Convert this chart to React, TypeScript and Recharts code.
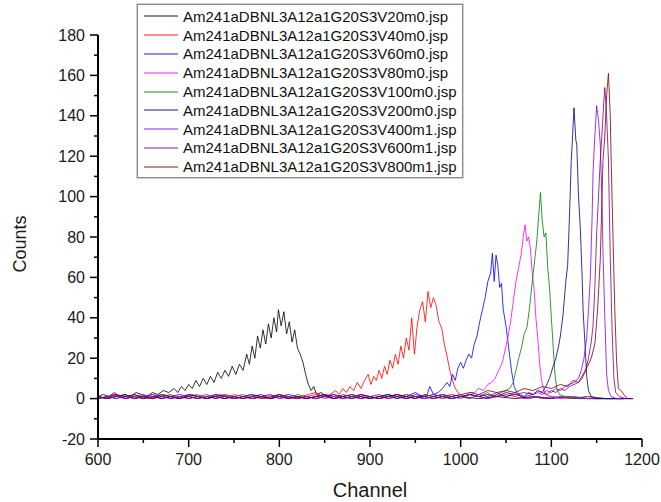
import { LineChart, Line, XAxis, YAxis, Legend } from "recharts";

const FONT = "'Liberation Sans', Arial, sans-serif";

// [channel, counts]
const V20: [number, number][] = [
  [600, 1], [606, 2], [612, 1], [618, 3], [624, 1], [630, 2], [636, 1], [642, 3], [648, 2], [654, 1],
  [660, 3], [666, 2], [672, 4], [678, 3], [684, 5], [688, 3], [692, 6], [696, 4], [700, 7], [704, 5],
  [708, 9], [712, 6], [716, 10], [720, 7], [724, 11], [728, 8], [732, 13], [736, 10], [740, 14], [744, 11],
  [748, 16], [752, 12], [756, 17], [760, 14], [764, 22], [767, 17], [770, 26], [773, 20], [776, 31], [779, 25],
  [782, 34], [785, 27], [788, 37], [791, 30], [794, 40], [797, 33], [799, 44], [802, 36], [805, 43], [808, 32],
  [811, 38], [814, 28], [817, 34], [820, 25], [823, 22], [826, 18], [829, 12], [832, 7], [835, 4], [838, 6],
  [841, 2], [846, 3], [852, 1], [860, 2], [870, 1], [880, 2], [890, 1], [900, 0], [910, 1], [920, 2],
  [930, 1], [940, 0], [950, 1], [960, 1], [970, 0], [980, 1], [990, 0], [1000, 1], [1020, 0], [1040, 1],
  [1060, 0], [1080, 1], [1100, 0], [1120, 1], [1140, 0], [1160, 0], [1180, 0], [1190, 0],
];

const V40: [number, number][] = [
  [600, 1], [608, 0], [616, 2], [624, 1], [632, 0], [640, 2], [648, 1], [656, 0], [664, 1], [672, 2],
  [680, 1], [688, 0], [696, 1], [704, 2], [712, 1], [720, 0], [728, 1], [736, 2], [744, 1], [752, 0],
  [760, 1], [768, 2], [776, 1], [784, 0], [792, 1], [800, 2], [808, 1], [816, 0], [824, 1], [832, 2],
  [840, 3], [848, 1], [856, 2], [862, 4], [866, 2], [870, 5], [874, 3], [878, 6], [882, 4], [886, 8],
  [890, 5], [894, 9], [898, 12], [901, 7], [904, 11], [907, 9], [910, 14], [913, 10], [916, 16], [919, 12],
  [922, 19], [925, 15], [928, 22], [931, 17], [934, 26], [937, 20], [940, 30], [943, 24], [946, 40], [949, 22],
  [952, 36], [955, 44], [958, 48], [961, 38], [964, 53], [967, 45], [970, 50], [973, 46], [976, 38], [979, 35],
  [982, 27], [985, 21], [988, 14], [991, 9], [994, 5], [997, 3], [1002, 1], [1010, 2], [1020, 1], [1030, 0],
  [1040, 1], [1050, 2], [1060, 1], [1070, 0], [1080, 1], [1090, 0], [1100, 1], [1120, 0], [1140, 1], [1160, 0],
  [1180, 0],
];

const V60: [number, number][] = [
  [600, 1], [610, 0], [620, 2], [630, 1], [640, 0], [650, 1], [660, 2], [670, 0], [680, 1], [690, 2],
  [700, 1], [710, 0], [720, 1], [730, 2], [740, 1], [750, 0], [760, 1], [770, 2], [780, 1], [790, 0],
  [800, 1], [810, 2], [820, 1], [830, 0], [840, 1], [850, 2], [860, 1], [870, 0], [880, 1], [890, 2],
  [900, 1], [910, 0], [920, 1], [930, 2], [940, 1], [950, 3], [958, 1], [963, 2], [966, 6], [970, 2],
  [975, 3], [980, 5], [985, 8], [988, 6], [991, 12], [994, 9], [997, 15], [1000, 18], [1003, 15], [1006, 19],
  [1009, 22], [1012, 20], [1015, 27], [1018, 31], [1021, 38], [1024, 44], [1027, 50], [1030, 58], [1033, 62], [1035, 72],
  [1037, 58], [1039, 71], [1041, 66], [1043, 55], [1045, 57], [1047, 44], [1050, 36], [1053, 25], [1056, 14], [1059, 6],
  [1062, 3], [1066, 1], [1075, 0], [1085, 1], [1095, 0], [1110, 1], [1130, 0], [1150, 0], [1170, 0], [1190, 0],
];

const V80: [number, number][] = [
  [600, 0], [610, 1], [620, 2], [630, 0], [640, 1], [650, 0], [660, 2], [670, 1], [680, 0], [690, 1],
  [700, 2], [710, 1], [720, 0], [730, 1], [740, 0], [750, 2], [760, 1], [770, 0], [780, 1], [790, 2],
  [800, 0], [810, 1], [820, 0], [830, 1], [840, 2], [850, 0], [860, 1], [870, 0], [880, 1], [890, 2],
  [900, 0], [910, 1], [920, 0], [930, 1], [940, 2], [950, 1], [960, 0], [970, 1], [980, 2], [990, 1],
  [1000, 2], [1006, 1], [1010, 3], [1015, 3], [1020, 5], [1025, 4], [1030, 7], [1034, 8], [1038, 10], [1042, 14],
  [1046, 18], [1049, 24], [1052, 30], [1055, 38], [1058, 48], [1061, 58], [1064, 65], [1067, 72], [1069, 80], [1071, 86],
  [1073, 78], [1075, 80], [1077, 74], [1079, 62], [1081, 54], [1083, 40], [1085, 30], [1087, 18], [1089, 10], [1091, 5],
  [1094, 2], [1100, 1], [1110, 0], [1125, 1], [1140, 0], [1160, 0], [1180, 0],
];

const V100: [number, number][] = [
  [600, 1], [610, 0], [620, 1], [630, 2], [640, 0], [650, 1], [660, 0], [670, 2], [680, 1], [690, 0],
  [700, 1], [710, 2], [720, 0], [730, 1], [740, 0], [750, 1], [760, 2], [770, 0], [780, 1], [790, 0],
  [800, 1], [810, 0], [820, 2], [830, 1], [840, 0], [850, 1], [860, 0], [870, 1], [880, 2], [890, 0],
  [900, 1], [910, 0], [920, 1], [930, 0], [940, 2], [950, 1], [960, 0], [970, 1], [980, 2], [990, 1],
  [1000, 0], [1010, 2], [1020, 1], [1030, 3], [1035, 1], [1040, 2], [1045, 3], [1050, 4], [1054, 5], [1058, 8],
  [1061, 14], [1064, 20], [1067, 25], [1070, 32], [1073, 35], [1076, 45], [1079, 58], [1082, 70], [1084, 78], [1086, 90],
  [1088, 102], [1090, 88], [1092, 80], [1094, 82], [1096, 65], [1098, 55], [1100, 40], [1102, 26], [1104, 12], [1106, 5],
  [1109, 2], [1115, 1], [1125, 0], [1140, 1], [1160, 0], [1180, 0],
];

const V200: [number, number][] = [
  [600, 0], [610, 1], [620, 0], [630, 1], [640, 2], [650, 0], [660, 1], [670, 0], [680, 1], [690, 0],
  [700, 2], [710, 1], [720, 0], [730, 1], [740, 0], [750, 1], [760, 0], [770, 1], [780, 2], [790, 0],
  [800, 1], [810, 0], [820, 1], [830, 0], [840, 1], [850, 2], [860, 0], [870, 1], [880, 0], [890, 1],
  [900, 0], [910, 1], [920, 2], [930, 0], [940, 1], [950, 0], [960, 1], [970, 2], [980, 1], [990, 0],
  [1000, 1], [1010, 2], [1020, 1], [1030, 2], [1040, 1], [1050, 3], [1060, 2], [1070, 1], [1075, 3], [1080, 2],
  [1085, 4], [1090, 3], [1094, 6], [1098, 10], [1102, 16], [1105, 20], [1108, 26], [1110, 31], [1113, 42], [1116, 58],
  [1118, 66], [1120, 90], [1122, 118], [1123, 126], [1125, 144], [1127, 128], [1128, 126], [1130, 100], [1132, 84], [1134, 60],
  [1135, 44], [1137, 28], [1139, 11], [1141, 4], [1144, 1], [1150, 0], [1165, 0], [1180, 0],
];

const V400: [number, number][] = [
  [600, 1], [610, 0], [620, 1], [630, 0], [640, 1], [650, 2], [660, 0], [670, 1], [680, 0], [690, 1],
  [700, 0], [710, 1], [720, 2], [730, 0], [740, 1], [750, 0], [760, 1], [770, 0], [780, 1], [790, 2],
  [800, 0], [810, 1], [820, 0], [830, 1], [840, 0], [850, 1], [860, 2], [870, 0], [880, 1], [890, 0],
  [900, 1], [910, 0], [920, 1], [930, 2], [940, 0], [950, 1], [960, 0], [970, 1], [980, 2], [990, 0],
  [1000, 1], [1010, 2], [1020, 1], [1030, 0], [1040, 2], [1050, 1], [1060, 3], [1070, 1], [1080, 2], [1085, 3],
  [1090, 2], [1095, 4], [1100, 3], [1105, 5], [1110, 4], [1115, 6], [1120, 7], [1125, 8], [1130, 10], [1133, 14],
  [1136, 20], [1139, 30], [1141, 44], [1143, 60], [1145, 90], [1146, 112], [1148, 130], [1150, 145], [1152, 138], [1154, 126],
  [1156, 96], [1157, 72], [1159, 40], [1161, 12], [1163, 4], [1166, 1], [1172, 0], [1185, 0],
];

const V600: [number, number][] = [
  [600, 0], [610, 1], [620, 2], [630, 0], [640, 1], [650, 0], [660, 1], [670, 2], [680, 0], [690, 1],
  [700, 0], [710, 1], [720, 0], [730, 2], [740, 1], [750, 0], [760, 1], [770, 0], [780, 1], [790, 0],
  [800, 2], [810, 1], [820, 0], [830, 1], [840, 0], [850, 1], [860, 0], [870, 2], [880, 1], [890, 0],
  [900, 1], [910, 2], [920, 0], [930, 1], [940, 0], [950, 2], [960, 1], [970, 0], [980, 1], [990, 2],
  [1000, 1], [1010, 0], [1020, 2], [1030, 1], [1040, 3], [1050, 1], [1060, 2], [1070, 3], [1080, 2], [1085, 4],
  [1090, 3], [1095, 2], [1100, 4], [1105, 3], [1110, 5], [1115, 4], [1120, 6], [1125, 7], [1130, 8], [1134, 10],
  [1138, 14], [1141, 20], [1144, 28], [1146, 36], [1148, 55], [1150, 82], [1152, 100], [1154, 118], [1156, 132], [1158, 148],
  [1159, 154], [1161, 140], [1163, 118], [1165, 70], [1167, 34], [1169, 10], [1171, 3], [1175, 1], [1182, 0],
];

const V800: [number, number][] = [
  [600, 1], [610, 0], [620, 1], [630, 2], [640, 0], [650, 1], [660, 0], [670, 1], [680, 2], [690, 0],
  [700, 1], [710, 0], [720, 1], [730, 0], [740, 2], [750, 1], [760, 0], [770, 1], [780, 0], [790, 1],
  [800, 2], [810, 0], [820, 1], [830, 0], [840, 1], [850, 2], [860, 0], [870, 1], [880, 0], [890, 2],
  [900, 1], [910, 0], [920, 1], [930, 2], [940, 1], [950, 0], [960, 2], [970, 1], [980, 0], [990, 1],
  [1000, 2], [1010, 3], [1020, 2], [1030, 4], [1040, 3], [1050, 4], [1060, 3], [1070, 5], [1080, 4], [1090, 6],
  [1100, 5], [1110, 7], [1118, 6], [1124, 9], [1130, 8], [1135, 12], [1140, 16], [1144, 20], [1148, 27], [1151, 44],
  [1154, 69], [1157, 118], [1159, 130], [1161, 150], [1163, 161], [1165, 140], [1166, 118], [1168, 80], [1170, 44], [1172, 18],
  [1174, 5], [1177, 4], [1180, 2], [1184, 0], [1190, 0],
];

const SERIES = [
  { name: "Am241aDBNL3A12a1G20S3V20m0.jsp", color: "#000000", points: V20 },
  { name: "Am241aDBNL3A12a1G20S3V40m0.jsp", color: "#ff0000", points: V40 },
  { name: "Am241aDBNL3A12a1G20S3V60m0.jsp", color: "#0000ff", points: V60 },
  { name: "Am241aDBNL3A12a1G20S3V80m0.jsp", color: "#ff00ff", points: V80 },
  { name: "Am241aDBNL3A12a1G20S3V100m0.jsp", color: "#008000", points: V100 },
  { name: "Am241aDBNL3A12a1G20S3V200m0.jsp", color: "#000080", points: V200 },
  { name: "Am241aDBNL3A12a1G20S3V400m1.jsp", color: "#8000ff", points: V400 },
  { name: "Am241aDBNL3A12a1G20S3V600m1.jsp", color: "#800080", points: V600 },
  { name: "Am241aDBNL3A12a1G20S3V800m1.jsp", color: "#800000", points: V800 },
];

const X_TICKS = [600, 650, 700, 750, 800, 850, 900, 950, 1000, 1050, 1100, 1150, 1200];
const Y_TICKS = [-20, -10, 0, 10, 20, 30, 40, 50, 60, 70, 80, 90, 100, 110, 120, 130, 140, 150, 160, 170, 180];

function YTick(props: any) {
  const { x, y, payload } = props;
  const major = payload.value % 20 === 0;
  return (
    <g>
      <line x1={x - (major ? 8 : 4)} x2={x} y1={y} y2={y} stroke="#000" strokeWidth={1.5} />
      {major && (
        <text x={x - 13} y={y} dy={5.5} textAnchor="end" fontSize={16} fontFamily={FONT} fill="#1a1a1a">
          {payload.value}
        </text>
      )}
    </g>
  );
}

function XTick(props: any) {
  const { x, y, payload } = props;
  const major = payload.value % 100 === 0;
  return (
    <g>
      <line x1={x} x2={x} y1={y} y2={y + (major ? 8 : 4)} stroke="#000" strokeWidth={1.5} />
      {major && (
        <text x={x} y={y + 26} textAnchor="middle" fontSize={16} fontFamily={FONT} fill="#1a1a1a">
          {payload.value}
        </text>
      )}
    </g>
  );
}

function LegendBox() {
  return (
    <div
      style={{
        width: 324,
        height: 170,
        border: "1px solid #8a8a8a",
        boxShadow: "0 0 0 1px #d0d0d0",
        background: "#fff",
        paddingTop: 2,
        fontFamily: FONT,
        fontSize: 15,
        color: "#111",
      }}
    >
      {SERIES.map((s) => (
        <div key={s.name} style={{ height: 18.8, display: "flex", alignItems: "center", whiteSpace: "nowrap" }}>
          <svg width={45} height={6} style={{ display: "block", flex: "none" }}>
            <line x1={6} x2={40} y1={3} y2={3} stroke={s.color} strokeOpacity={0.45} strokeWidth={2} />
          </svg>
          <span>{s.name}</span>
        </div>
      ))}
    </div>
  );
}

export default function App() {
  return (
    <div style={{ position: "absolute", left: 0, top: 0, width: 661, height: 502, background: "#fff" }}>
      <LineChart width={661} height={502} margin={{ top: 35, right: 19, bottom: 23, left: 38 }}>
        <XAxis
          type="number"
          dataKey="ch"
          domain={[600, 1200]}
          ticks={X_TICKS}
          interval={0}
          allowDataOverflow
          height={40}
          tickSize={0}
          tickMargin={0}
          tickLine={false}
          axisLine={{ stroke: "#000", strokeWidth: 2 }}
          tick={XTick}
          label={() => (
            <text x={370} y={497} textAnchor="middle" fontSize={20} fontFamily={FONT} fill="#1a1a1a">
              Channel
            </text>
          )}
        />
        <YAxis
          type="number"
          domain={[-20, 180]}
          ticks={Y_TICKS}
          interval={0}
          allowDataOverflow
          width={60}
          tickSize={0}
          tickMargin={0}
          tickLine={false}
          axisLine={{ stroke: "#000", strokeWidth: 2 }}
          tick={YTick}
          label={() => (
            <text x={26} y={244} transform="rotate(-90 26 244)" textAnchor="middle" fontSize={18} fontFamily={FONT} fill="#1a1a1a">
              Counts
            </text>
          )}
        />
        <Legend
          layout="horizontal"
          verticalAlign="middle"
          align="center"
          content={() => <LegendBox />}
          wrapperStyle={{ position: "absolute", top: 4, left: 137, width: 326 }}
        />
        {SERIES.map((s) => (
          <Line
            key={s.name}
            name={s.name}
            data={s.points.map(([ch, c]) => ({ ch, c }))}
            dataKey="c"
            type="linear"
            stroke={s.color}
            strokeWidth={1}
            strokeOpacity={0.8}
            dot={false}
            activeDot={false}
            isAnimationActive={false}
          />
        ))}
      </LineChart>
    </div>
  );
}
